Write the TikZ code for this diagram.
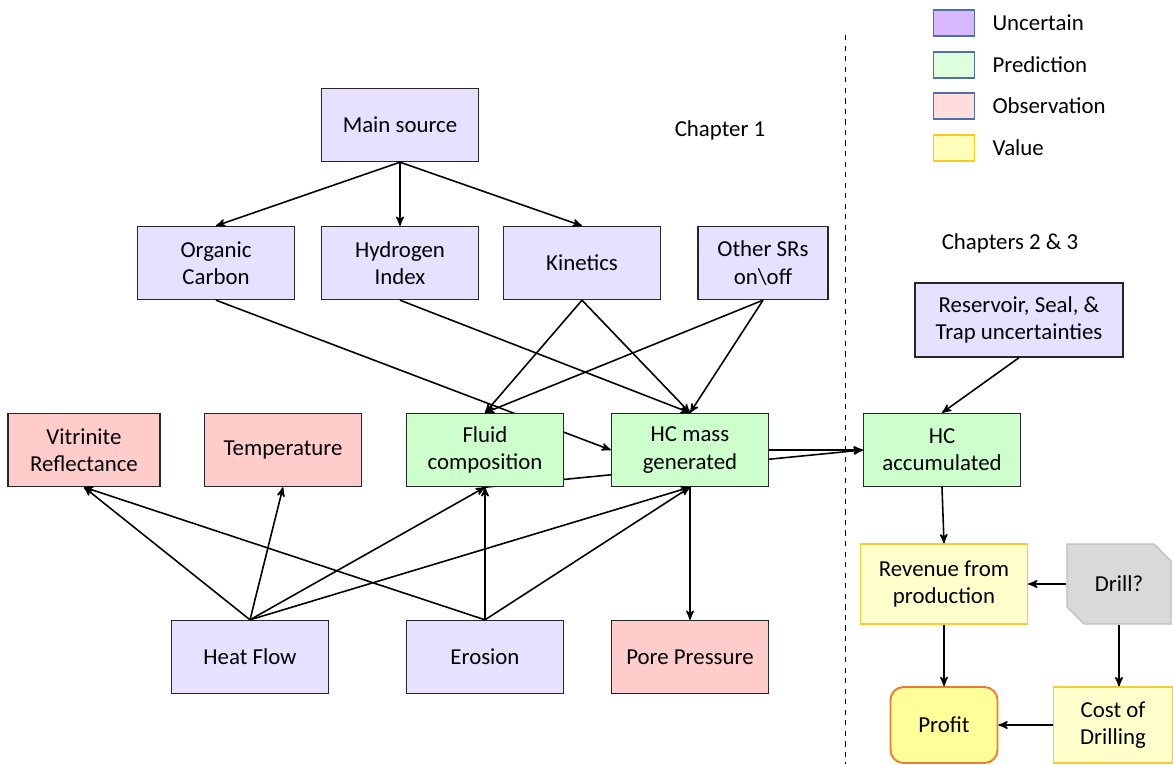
\documentclass[tikz,border=0pt]{standalone}
\usepackage{fontspec}
\setmainfont{Carlito}
\usepackage{tikz}
\usetikzlibrary{arrows}
\usetikzlibrary{shapes.misc}
\usetikzlibrary{positioning}
\usetikzlibrary{backgrounds}

\definecolor{uncfill}{HTML}{E8E0FF}
\definecolor{predfill}{HTML}{CCFFCC}
\definecolor{obsfill}{HTML}{FFCCCC}
\definecolor{valfill}{HTML}{FFFFCC}
\definecolor{valline}{HTML}{F5CC33}
\definecolor{proffill}{HTML}{FFFF99}
\definecolor{profline}{HTML}{ED7D31}
\definecolor{drillfill}{HTML}{D9D9D9}
\definecolor{drillline}{HTML}{BFBFBF}
\definecolor{legline}{HTML}{4F6FA8}
\definecolor{legunc}{HTML}{D9B8FF}
\definecolor{legpred}{HTML}{DDFFDD}
\definecolor{legobs}{HTML}{FFDDDD}
\definecolor{legval}{HTML}{FFFFBB}
\definecolor{legvalline}{HTML}{FFC91A}

\begin{document}
\begin{tikzpicture}[x=0.02cm,y=-0.02cm,
  ->,>=stealth',line width=0.9pt,
  every node/.style={font=\fontsize{13}{15.5}\selectfont},
  box/.style={draw=black!85,rectangle,minimum width=3.14cm,minimum height=1.46cm,align=center,inner sep=2pt,line width=0.8pt},
  uncertain/.style={box,fill=uncfill},
  prediction/.style={box,fill=predfill},
  observation/.style={box,fill=obsfill},
  value/.style={box,draw=valline,fill=valfill},
  link/.style={->,line width=0.9pt},
  legbox/.style={draw=legline,rectangle,minimum width=0.82cm,minimum height=0.52cm,inner sep=0pt,line width=0.9pt},
  legtext/.style={right=0.33cm of #1,inner sep=0pt}]

  \useasboundingbox (0,0) rectangle (1173,764);

  % chapter split
  \draw[-,dashed,line width=0.5pt] (845,35) -- (845,764);
  \node (chap1) at (720,130) {Chapter 1};
  \node (chap23) at (1010,243) {Chapters 2 \& 3};

  % legend
  \node [legbox,fill=legunc] (legu) at (954,23) {};
  \node [legtext=legu] (legut) {Uncertain};
  \node [legbox,fill=legpred] (legp) at (954,65) {};
  \node [legtext=legp] (legpt) {Prediction};
  \node [legbox,fill=legobs] (lego) at (954,106) {};
  \node [legtext=lego] (legot) {Observation};
  \node [legbox,draw=legvalline,fill=legval] (legv) at (954,148) {};
  \node [legtext=legv] (legvt) {Value};

  % source rock
  \node [uncertain] (main) at (400,125) {Main source};
  \node [uncertain] (orgc) at (216,263) {Organic\\Carbon};
  \node [uncertain] (hyd) at (400,263) {Hydrogen\\Index};
  \node [uncertain] (kin) at (582,263) {Kinetics};
  \node [uncertain,minimum width=2.6cm] (other) at (763,263) {Other SRs\\on\textbackslash off};
  \node [uncertain,minimum width=4.16cm,minimum height=1.48cm] (res) at (1019,320) {Reservoir, Seal, \&\\Trap uncertainties};

  % middle row
  \node [observation,minimum width=3.04cm] (vit) at (84,450) {Vitrinite\\Reflectance};
  \node [observation] (temp) at (283,450) {Temperature};
  \node [prediction] (fluid) at (485,450) {Fluid\\composition};
  \node [prediction] (hcm) at (690,450) {HC mass\\generated};
  \node [prediction] (hcacc) at (942,450) {HC\\accumulated};

  % bottom row
  \node [uncertain] (heat) at (250,657) {Heat Flow};
  \node [uncertain] (ero) at (485,657) {Erosion};
  \node [observation] (pore) at (690,657) {Pore Pressure};

  % decision and value
  \node [value,minimum width=3.34cm,minimum height=1.6cm] (rev) at (944,584) {Revenue from\\production};
  \node [draw=drillline,fill=drillfill,chamfered rectangle,chamfered rectangle corners={north east,south west},chamfered rectangle xsep=0.26cm,minimum width=2.08cm,minimum height=1.6cm,inner sep=2pt,line width=0.8pt] (drill) at (1119,584) {Drill?};
  \node [box,draw=profline,fill=proffill,rounded corners=0.26cm,minimum width=2.14cm,minimum height=1.52cm,line width=1.1pt] (profit) at (944,725) {Profit};
  \node [value,minimum width=2.38cm,minimum height=1.52cm] (cost) at (1113,725) {Cost of\\Drilling};

  % links hidden behind boxes
  \begin{scope}[on background layer]
    \draw[link] (orgc.south) -- (hcm.west);
    \draw[link] (fluid.south) -- (hcacc.west);
  \end{scope}

  \path
    (main.south) edge (orgc.north)
    (main.south) edge (hyd.north)
    (main.south) edge (kin.north)
    (hyd.south) edge (hcm.north)
    (kin.south) edge (fluid.north)
    (kin.south) edge (hcm.north)
    (other.south) edge (fluid.north)
    (other.south) edge (hcm.north)
    (hcm.east) edge (hcacc.west)
    (res.south) edge (hcacc.north)
    (hcm.south) edge (pore.north)
    (heat.north) edge (vit.south)
    (heat.north) edge (temp.south)
    (heat.north) edge (fluid.south)
    (heat.north) edge (hcm.south)
    (ero.north) edge (vit.south)
    (ero.north) edge (fluid.south)
    (ero.north) edge (hcm.south)
    (hcacc.south) edge (rev.north)
    (drill.west) edge (rev.east)
    (rev.south) edge (profit.north)
    (drill.south) edge (drill.south |- cost.north)
    (cost.west) edge (profit.east);

\end{tikzpicture}
\end{document}
